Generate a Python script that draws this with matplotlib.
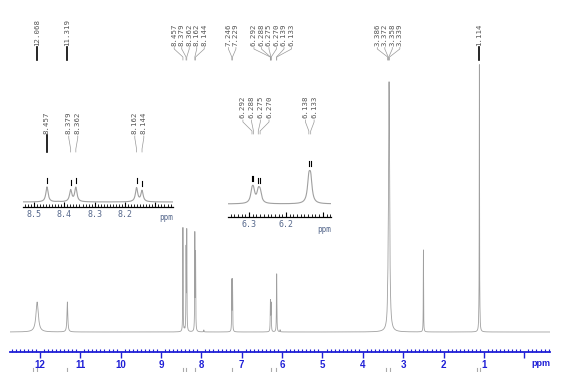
import numpy as np
import matplotlib.pyplot as plt
from matplotlib.ticker import MultipleLocator, FuncFormatter

W, H = 571, 372

# peak positions (ppm), heights (main-trace pixels above baseline) and half widths
peak_ppm = [12.068, 11.319, 8.457, 8.379, 8.362, 8.162, 8.144, 7.246, 7.229,
            6.292, 6.288, 6.275, 6.270, 6.138, 6.133,
            3.386, 3.372, 3.358, 3.339, 3.350, 2.500, 1.128, 1.114, 1.100,
            8.42, 7.94, 6.05]
peak_height = [30, 30, 104, 80, 98, 96, 76, 50, 50,
               18, 18, 18, 18, 38, 38,
               14, 28, 42, 22, 232, 82, 6, 266, 6,
               2, 2, 2]
peak_hwhm = [0.035, 0.012, 0.0045, 0.0045, 0.0045, 0.0045, 0.0045, 0.0045, 0.0045,
             0.0045, 0.0045, 0.0045, 0.0045, 0.0045, 0.0045,
             0.005, 0.005, 0.005, 0.005, 0.015, 0.004, 0.006, 0.004, 0.006,
             0.005, 0.005, 0.005]

# peak-pick labels
top_groups = [["12.068"], ["11.319"], ["8.457", "8.379", "8.362", "8.162", "8.144"],
              ["7.246", "7.229"], ["6.292", "6.288", "6.275", "6.270", "6.139", "6.133"],
              ["3.386", "3.372", "3.358", "3.339"], ["1.114"]]
inset1_groups = [["8.457"], ["8.379", "8.362"], ["8.162", "8.144"]]
inset2_groups = [["6.292", "6.288", "6.275", "6.270"], ["6.138", "6.133"]]

main_ticks = [12, 11, 10, 9, 8, 7, 6, 5, 4, 3, 2, 1]
inset1_ticks = [8.5, 8.4, 8.3, 8.2]
inset2_ticks = [6.3, 6.2]

# integral labels cut off at the bottom edge
integral_ppm = [12.17, 12.07, 11.32, 8.46, 8.37, 8.15, 7.24, 6.28, 6.14, 3.42, 3.33, 1.17, 1.10]


def spectrum(x):
    y = np.zeros_like(x)
    for p, h, w in zip(peak_ppm, peak_height, peak_hwhm):
        y += h / (1 + ((x - p) / w) ** 2)
    return y


def rect(x0, y0, x1, y1):
    return [x0 / W, 1 - y1 / H, (x1 - x0) / W, (y1 - y0) / H]


ppm = np.linspace(12.74, -0.64, 30000)
inten = spectrum(ppm)

fig = plt.figure(figsize=(W / 100, H / 100), dpi=100)
fig.patch.set_facecolor('white')

blue = '#1f1fd6'
line_gray = '#a0a0a0'
mono = 'DejaVu Sans Mono'

# main spectrum
ax = fig.add_axes(rect(10, 60, 550, 352))
ax.plot(ppm, inten, color=line_gray, lw=0.6)
ax.set_xlim(12.74, -0.635)
ax.set_ylim(-20, 272)
ax.patch.set_visible(False)
for s in ['top', 'left', 'right']:
    ax.spines[s].set_visible(False)
ax.spines['bottom'].set_color(blue)
ax.spines['bottom'].set_linewidth(1.3)
ax.set_yticks([])
ax.xaxis.set_major_locator(MultipleLocator(1))
ax.xaxis.set_minor_locator(MultipleLocator(0.1))
ax.xaxis.set_major_formatter(FuncFormatter(lambda v, p: '%d' % round(v) if round(v) in main_ticks else ''))
ax.tick_params(axis='x', which='major', direction='out', length=4, width=1, color=blue,
               labelcolor=blue, labelsize=7, pad=1.5)
ax.tick_params(axis='x', which='minor', direction='in', length=2.2, width=0.8, color=blue)
for lab in ax.get_xticklabels():
    lab.set_fontweight('bold')
    lab.set_family('Liberation Sans')
ax.text(1.0, -0.038, 'ppm', transform=ax.transAxes, ha='right', va='center', color=blue,
        fontsize=6.5, fontweight='bold', family='Liberation Sans')


def make_inset(r, xlim, ylim, ticks):
    a = fig.add_axes(r)
    a.plot(ppm, inten, color=line_gray, lw=0.8)
    a.set_xlim(*xlim)
    a.set_ylim(*ylim)
    a.patch.set_visible(False)
    for s in ['top', 'left', 'right']:
        a.spines[s].set_visible(False)
    a.spines['bottom'].set_linewidth(0.9)
    a.set_yticks([])
    a.xaxis.set_major_locator(MultipleLocator(0.1))
    a.xaxis.set_minor_locator(MultipleLocator(0.01))
    a.xaxis.set_major_formatter(FuncFormatter(
        lambda v, p: '%.1f' % v if any(abs(v - t) < 1e-6 for t in ticks) else ''))
    a.tick_params(axis='x', which='major', direction='in', length=3.5, width=0.8,
                  labelcolor='#56688c', labelsize=6, pad=2.5)
    a.tick_params(axis='x', which='minor', direction='in', length=2, width=0.6)
    for lab in a.get_xticklabels():
        lab.set_family(mono)
    a.text(1.0, -0.1, 'ppm', transform=a.transAxes, ha='right', va='top', color='#56688c',
           fontsize=5.5, family=mono)
    return a


ins1 = make_inset(rect(23, 150, 173, 207), (8.536, 8.042), (-34.7, 360), inset1_ticks)
ins2 = make_inset(rect(228, 140, 331, 217), (6.357, 6.078), (-22.6, 111), inset2_ticks)

# overlay in pixel coordinates for the peak labels
ov = fig.add_axes([0, 0, 1, 1])
ov.set_xlim(0, W)
ov.set_ylim(H, 0)
ov.axis('off')


def to_px(a, x, y):
    d = a.transData.transform((x, y))
    return d[0], H - d[1]


def draw_labels(a, groups, bottom, ends, spacing, marks=False):
    for g in groups:
        xs = [to_px(a, float(t), 0)[0] for t in g]
        c = np.mean(xs)
        n = len(g)
        for i, t in enumerate(g):
            xl = c + (i - (n - 1) / 2) * spacing
            ov.text(xl, bottom, t, rotation=90, ha='center', va='bottom', fontsize=5.3,
                    family=mono, color='#555555')
            if n == 1:
                ov.plot([xs[i], xs[i]], [bottom + 1, ends[3]], color='black', lw=1.2)
            else:
                ov.plot([xl, xl, xs[i], xs[i]], ends, color='#999999', lw=0.5)
            if marks:
                p = float(t)
                yv = spectrum(np.linspace(p - 0.003, p + 0.003, 61)).max()
                yt = to_px(a, p, yv)[1]
                ov.plot([xs[i], xs[i]], [yt - 9, yt - 4], color='black', lw=0.8)


draw_labels(ax, top_groups, 46, [47.5, 49, 57, 60], 7.5)
draw_labels(ins1, inset1_groups, 134, [136, 138, 149, 152], 9, marks=True)
draw_labels(ins2, inset2_groups, 118, [120, 122, 131, 134], 8.7, marks=True)

for p in integral_ppm:
    xp = to_px(ax, p, 0)[0]
    ov.plot([xp, xp], [368, 373], color='#aaaaaa', lw=0.8)

fig.savefig('out.png', dpi=100)
